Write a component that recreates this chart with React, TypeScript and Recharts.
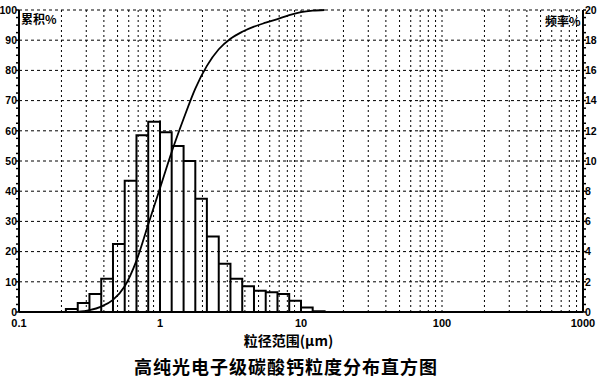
import { LineChart, Line, XAxis, YAxis, CartesianGrid } from 'recharts';

// histogram bin edges (µm), 12 bins per decade
const SIZE_EDGES = [
  0.215, 0.261, 0.316, 0.383, 0.464, 0.562, 0.681, 0.825, 1, 1.21, 1.47, 1.78,
  2.15, 2.61, 3.16, 3.83, 4.64, 5.62, 6.81, 8.25, 10, 12.1, 14.7,
];
// frequency % per bin (right axis)
const FREQUENCY = [
  0.2, 0.6, 1.2, 2.2, 4.5, 8.7, 11.7, 12.6, 11.9, 11.0, 10.0, 7.5, 5.0, 3.2, 2.2,
  1.7, 1.4, 1.3, 1.2, 0.75, 0.3, 0.05,
];
// cumulative curve (left axis)
const CURVE_SIZE = [
  0.26, 0.316, 0.383, 0.464, 0.562, 0.681, 0.825, 1, 1.21, 1.47, 1.78, 2.15, 2.61,
  3.16, 3.83, 4.64, 5.62, 6.81, 8.25, 10, 12.1, 14.7,
];
const CURVE_CUM = [
  0, 0.6, 1.8, 4.0, 8.5, 17, 29, 41, 53, 64, 74, 81.5, 87, 90.5, 92.8, 94.5, 95.8,
  97, 98.3, 99.3, 99.8, 100,
];

const X_LABELS = [0.1, 1, 10, 100, 1000];
const CUM_LABELS = [0, 10, 20, 30, 40, 50, 60, 70, 80, 90, 100];
const FREQ_LABELS = [0, 2, 4, 6, 8, 10, 12, 14, 16, 18, 20];

const curve = CURVE_SIZE.map((size, i) => ({ size, cum: CURVE_CUM[i] }));

// outline of each bin: up the left edge, across the top, down the right edge
const histOutline = FREQUENCY.flatMap((f, i) => [
  { size: SIZE_EDGES[i], f: 0 },
  { size: SIZE_EDGES[i], f },
  { size: SIZE_EDGES[i + 1], f },
  { size: SIZE_EDGES[i + 1], f: 0 },
]);

// log minor positions: 1..9 x each decade
const xTicks: number[] = [];
[0.1, 1, 10, 100].forEach((d) => {
  for (let m = 1; m <= 9; m++) xTicks.push(Number((m * d).toPrecision(6)));
});
xTicks.push(1000);

const cumTicks = Array.from({ length: 41 }, (_, i) => i * 2.5);
const freqTicks = Array.from({ length: 41 }, (_, i) => i * 0.5);

const FONT = '"Liberation Sans", Arial, sans-serif';
const CJK = '"Noto Sans CJK SC", "Noto Sans", sans-serif';
const tickStyle = { fontSize: 10.5, fontWeight: 700, fill: '#000', fontFamily: FONT };

export default function App() {
  return (
    <div style={{ position: 'fixed', left: 0, top: 0, width: 600, height: 380, background: '#fff' }}>
      <LineChart width={600} height={380} data={curve} margin={{ top: 10, right: 0, left: 0, bottom: 48 }}>
        <CartesianGrid
          yAxisId="cum"
          vertical={false}
          horizontalValues={CUM_LABELS}
          stroke="#000"
          strokeDasharray="3 3"
        />
        <CartesianGrid yAxisId="cum" horizontal={false} stroke="#000" strokeDasharray="2 3" />
        <XAxis
          dataKey="size"
          type="number"
          scale="log"
          domain={[0.1, 1000]}
          ticks={xTicks}
          interval={0}
          allowDataOverflow
          height={20}
          tick={{ ...tickStyle, fontSize: 11 }}
          tickFormatter={(v: number) => (X_LABELS.includes(v) ? String(v) : '')}
          tickLine={false}
          tickSize={6}
          tickMargin={1}
          axisLine={{ stroke: '#000', strokeWidth: 2 }}
        />
        <XAxis
          xAxisId="top"
          orientation="top"
          type="number"
          scale="log"
          domain={[0.1, 1000]}
          ticks={X_LABELS}
          height={0}
          tick={false}
          tickLine={false}
          axisLine={{ stroke: '#000', strokeWidth: 1.5 }}
        />
        <YAxis
          yAxisId="cum"
          domain={[0, 100]}
          ticks={cumTicks}
          interval={0}
          width={19}
          tick={tickStyle}
          tickFormatter={(v: number) => (CUM_LABELS.includes(v) ? String(v) : '')}
          tickSize={3}
          tickMargin={-1}
          tickLine={{ stroke: '#000', strokeWidth: 1.5 }}
          axisLine={{ stroke: '#000', strokeWidth: 2 }}
        />
        <YAxis
          yAxisId="freq"
          orientation="right"
          domain={[0, 20]}
          ticks={freqTicks}
          interval={0}
          width={17}
          tick={tickStyle}
          tickFormatter={(v: number) => (FREQ_LABELS.includes(v) ? String(v) : '')}
          tickSize={3}
          tickMargin={-1}
          tickLine={{ stroke: '#000', strokeWidth: 1.5 }}
          axisLine={{ stroke: '#000', strokeWidth: 2 }}
        />
        <Line
          yAxisId="freq"
          data={histOutline}
          dataKey="f"
          type="linear"
          stroke="#000"
          strokeWidth={2}
          strokeLinejoin="miter"
          dot={false}
          activeDot={false}
          isAnimationActive={false}
        />
        <Line
          yAxisId="cum"
          dataKey="cum"
          type="monotone"
          stroke="#000"
          strokeWidth={1.8}
          dot={false}
          activeDot={false}
          isAnimationActive={false}
        />
      </LineChart>
      <div style={{ position: 'absolute', left: 21, top: 11, fontFamily: CJK, fontSize: 12, fontWeight: 700, lineHeight: '16px' }}>
        累积%
      </div>
      <div style={{ position: 'absolute', left: 545, top: 13, fontFamily: CJK, fontSize: 12, fontWeight: 700, lineHeight: '16px' }}>
        频率%
      </div>
      <div
        style={{
          position: 'absolute',
          left: 0,
          width: 577,
          top: 331,
          textAlign: 'center',
          fontFamily: CJK,
          fontSize: 14,
          fontWeight: 700,
          lineHeight: '18px',
        }}
      >
        粒径范围(μm)
      </div>
      <div
        style={{
          position: 'absolute',
          left: 0,
          width: 572,
          top: 355,
          textAlign: 'center',
          fontFamily: CJK,
          fontSize: 18,
          fontWeight: 700,
          letterSpacing: 1,
          lineHeight: '22px',
        }}
      >
        高纯光电子级碳酸钙粒度分布直方图
      </div>
    </div>
  );
}
